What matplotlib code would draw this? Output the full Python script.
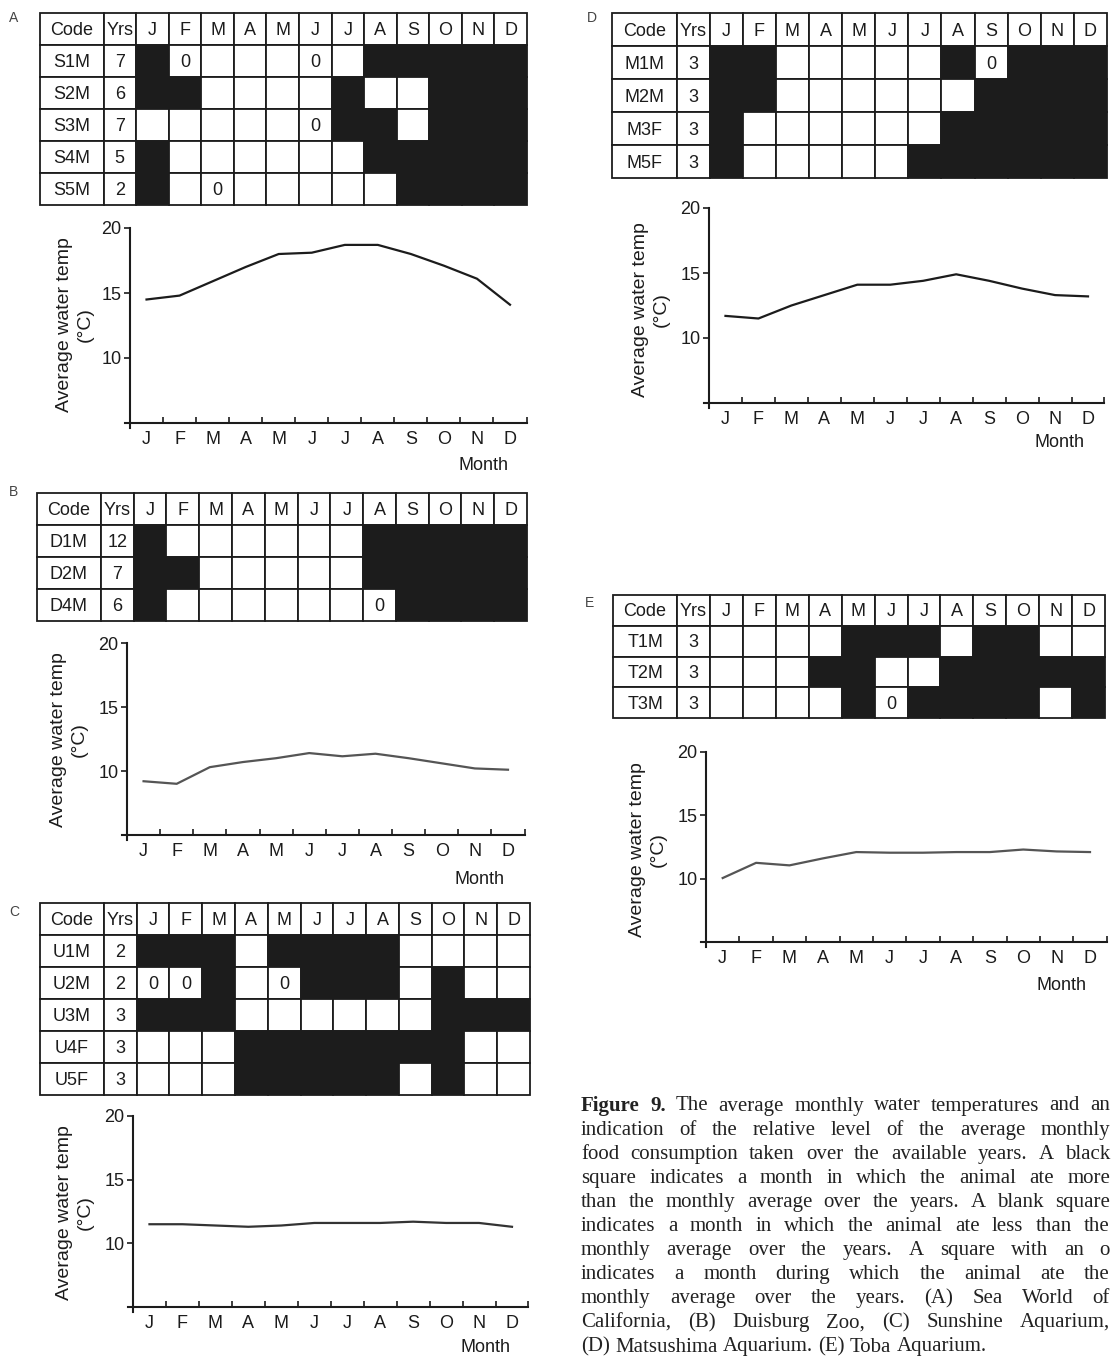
import numpy as np
import matplotlib
matplotlib.use("Agg")
import matplotlib.pyplot as plt
from matplotlib.patches import Rectangle
from matplotlib.font_manager import FontProperties

# ---------------- data ----------------
months = ["J", "F", "M", "A", "M", "J", "J", "A", "S", "O", "N", "D"]

# cell codes: B = ate more (black), W = ate less (blank), 0 = ate the average
codes_a = ["S1M", "S2M", "S3M", "S4M", "S5M"]
yrs_a = [7, 6, 7, 5, 2]
cells_a = ["B0WWW0WBBBBB", "BBWWWWBWWBBB", "WWWWW0BBWBBB", "BWWWWWWBBBBB", "BW0WWWWWBBBB"]
temp_a = [14.5, 14.8, 15.9, 17.0, 18.0, 18.1, 18.7, 18.7, 18.0, 17.1, 16.1, 14.1]

codes_b = ["D1M", "D2M", "D4M"]
yrs_b = [12, 7, 6]
cells_b = ["BWWWWWWBBBBB", "BBWWWWWBBBBB", "BWWWWWW0BBBB"]
temp_b = [9.2, 9.0, 10.3, 10.7, 11.0, 11.4, 11.15, 11.35, 11.0, 10.6, 10.2, 10.1]

codes_c = ["U1M", "U2M", "U3M", "U4F", "U5F"]
yrs_c = [2, 2, 3, 3, 3]
cells_c = ["BBBWBBBBWWWW", "00BW0BBBWBWW", "BBBWWWWWWBBB", "WWWBBBBBBBWW", "WWWBBBBBWBWW"]
temp_c = [11.5, 11.5, 11.4, 11.3, 11.4, 11.6, 11.6, 11.6, 11.7, 11.6, 11.6, 11.3]

codes_d = ["M1M", "M2M", "M3F", "M5F"]
yrs_d = [3, 3, 3, 3]
cells_d = ["BBWWWWWB0BBB", "BBWWWWWWBBBB", "BWWWWWWBBBBB", "BWWWWWBBBBBB"]
temp_d = [11.7, 11.5, 12.5, 13.3, 14.1, 14.1, 14.4, 14.9, 14.4, 13.8, 13.3, 13.2]

codes_e = ["T1M", "T2M", "T3M"]
yrs_e = [3, 3, 3]
cells_e = ["WWWWBBBWBBWW", "WWWBBWWBBBBB", "WWWWB0BBBBWB"]
temp_e = [10.05, 11.25, 11.05, 11.6, 12.1, 12.05, 12.05, 12.1, 12.1, 12.3, 12.15, 12.1]

caption_lines = [
    "Figure 9. The average monthly water temperatures and an",
    "indication of the relative level of the average monthly",
    "food consumption taken over the available years. A black",
    "square indicates a month in which the animal ate more",
    "than the monthly average over the years. A blank square",
    "indicates a month in which the animal ate less than the",
    "monthly average over the years. A square with an o",
    "indicates a month during which the animal ate the",
    "monthly average over the years. (A) Sea World of",
    "California, (B) Duisburg Zoo, (C) Sunshine Aquarium,",
    "(D) Matsushima Aquarium. (E) Toba Aquarium.",
]

# ---------------- figure ----------------
W, H = 1114, 1358
plt.rcParams["font.family"] = ["Liberation Sans", "DejaVu Sans"]
fig = plt.figure(figsize=(W / 100, H / 100), dpi=100)
INK = "#1c1c1c"


def rect(x0, y0, x1, y1):
    """pixel box (top-left origin) -> figure fraction rect"""
    return [x0 / W, 1 - y1 / H, (x1 - x0) / W, (y1 - y0) / H]


def ftext(x, y, s, **kw):
    fig.text(x / W, 1 - y / H, s, **kw)


def draw_table(box, codes, yrs, cells):
    ax = fig.add_axes(rect(*box))
    widths = [1.95, 1.0] + [1.0] * 12
    edges = np.concatenate([[0], np.cumsum(widths)])
    nrow = len(codes) + 1
    ax.set_xlim(0, edges[-1])
    ax.set_ylim(nrow, 0)
    ax.axis("off")

    def cell(j, i, fc, txt):
        ax.add_patch(Rectangle((edges[j], i), widths[j], 1, facecolor=fc,
                               edgecolor=INK, lw=1.3, clip_on=False))
        if txt:
            ax.text(edges[j] + widths[j] / 2, i + 0.55, txt, ha="center",
                    va="center", fontsize=13, color=INK)

    for j, lab in enumerate(["Code", "Yrs"] + months):
        cell(j, 0, "white", lab)
    for i, (c, y, row) in enumerate(zip(codes, yrs, cells), start=1):
        cell(0, i, "white", c)
        cell(1, i, "white", str(y))
        for k, ch in enumerate(row):
            cell(k + 2, i, INK if ch == "B" else "white", "0" if ch == "0" else "")


def draw_temp(x0, xD, y20, y5, temps, color):
    s = (xD - x0) / 11.5
    u = (y5 - y20) / 15
    ax = fig.add_axes(rect(x0 - 0.15 * s, y20, xD + 0.5 * s, y5 + 0.4 * u))
    ax.patch.set_alpha(0)
    ax.plot(range(12), temps, color=color, lw=1.6)
    ax.set_xlim(-0.65, 11.5)
    ax.set_ylim(4.6, 20)
    for side in ["top", "right"]:
        ax.spines[side].set_visible(False)
    ax.spines["left"].set_position(("data", -0.5))
    ax.spines["bottom"].set_position(("data", 5))
    for side in ["left", "bottom"]:
        ax.spines[side].set_linewidth(1.5)
        ax.spines[side].set_color(INK)
    ax.set_yticks([10, 15, 20])
    ax.tick_params(axis="y", direction="out", length=4, width=1.2, pad=2,
                   labelsize=13, colors=INK)
    ax.set_xticks(range(12))
    ax.set_xticklabels(months)
    ax.set_xticks(np.arange(0.5, 11.6, 1), minor=True)
    ax.tick_params(axis="x", which="major", length=0, pad=6, labelsize=13,
                   colors=INK)
    ax.tick_params(axis="x", which="minor", direction="in", length=4, width=1.2,
                   colors=INK)
    return ax


def ylabel(x, y):
    ftext(x, y, "Average water temp\n(°C)", rotation=90, ha="center",
          va="center", fontsize=14, color=INK, linespacing=1.25,
          multialignment="center")


# panel A
ftext(14, 18, "A", fontsize=10, color="#444", ha="center", va="center")
draw_table((40, 13, 527, 205), codes_a, yrs_a, cells_a)
draw_temp(130, 510, 228, 423, temp_a, INK)
ylabel(75, 325)
ftext(483, 465, "Month", fontsize=13, ha="center", va="center", color=INK)

# panel B
ftext(14, 492, "B", fontsize=10, color="#444", ha="center", va="center")
draw_table((37, 493, 527, 621), codes_b, yrs_b, cells_b)
draw_temp(127, 508, 643, 835, temp_b, "#555")
ylabel(69, 740)
ftext(480, 880, "Month", fontsize=13, ha="center", va="center", color=INK)

# panel C
ftext(14, 912, "C", fontsize=10, color="#444", ha="center", va="center")
draw_table((40, 903, 530, 1095), codes_c, yrs_c, cells_c)
draw_temp(133, 512, 1116, 1307, temp_c, "#333")
ylabel(75, 1213)
ftext(485, 1348, "Month", fontsize=13, ha="center", va="center", color=INK)

# panel D
ftext(592, 18, "D", fontsize=10, color="#444", ha="center", va="center")
draw_table((612, 13, 1107, 178), codes_d, yrs_d, cells_d)
draw_temp(709, 1088, 208, 403, temp_d, INK)
ylabel(651, 310)
ftext(1060, 443, "Month", fontsize=13, ha="center", va="center", color=INK)

# panel E
ftext(590, 603, "E", fontsize=10, color="#444", ha="center", va="center")
draw_table((613, 595, 1105, 718), codes_e, yrs_e, cells_e)
draw_temp(706, 1090, 752, 942, temp_e, "#555")
ylabel(648, 850)
ftext(1062, 985, "Month", fontsize=13, ha="center", va="center", color=INK)

# ---------------- justified caption ----------------
renderer = fig.canvas.get_renderer()

cap_left, cap_right = 581, 1110
cap_top, cap_step = 1106, 24.1
reg = FontProperties(family="Liberation Serif", size=15)
bold = FontProperties(family="Liberation Serif", size=15, weight="bold")


def wwidth(s, prop):
    w, _, _ = renderer.get_text_width_height_descent(s, prop, ismath=False)
    return w


space_w = wwidth("a a", reg) - wwidth("aa", reg)
for li, line in enumerate(caption_lines):
    words = line.split(" ")
    props = [bold if (li == 0 and wi < 2) else reg for wi in range(len(words))]
    widths = [wwidth(wd, p) for wd, p in zip(words, props)]
    last = li == len(caption_lines) - 1
    if last or len(words) == 1:
        gap = space_w
    else:
        gap = (cap_right - cap_left - sum(widths)) / (len(words) - 1)
    x = cap_left
    y = cap_top + li * cap_step
    for wd, p, wdt in zip(words, props, widths):
        ftext(x, y, wd, fontproperties=p, ha="left", va="center", color="#222")
        x += wdt + gap

fig.savefig("out.png", dpi=100)
